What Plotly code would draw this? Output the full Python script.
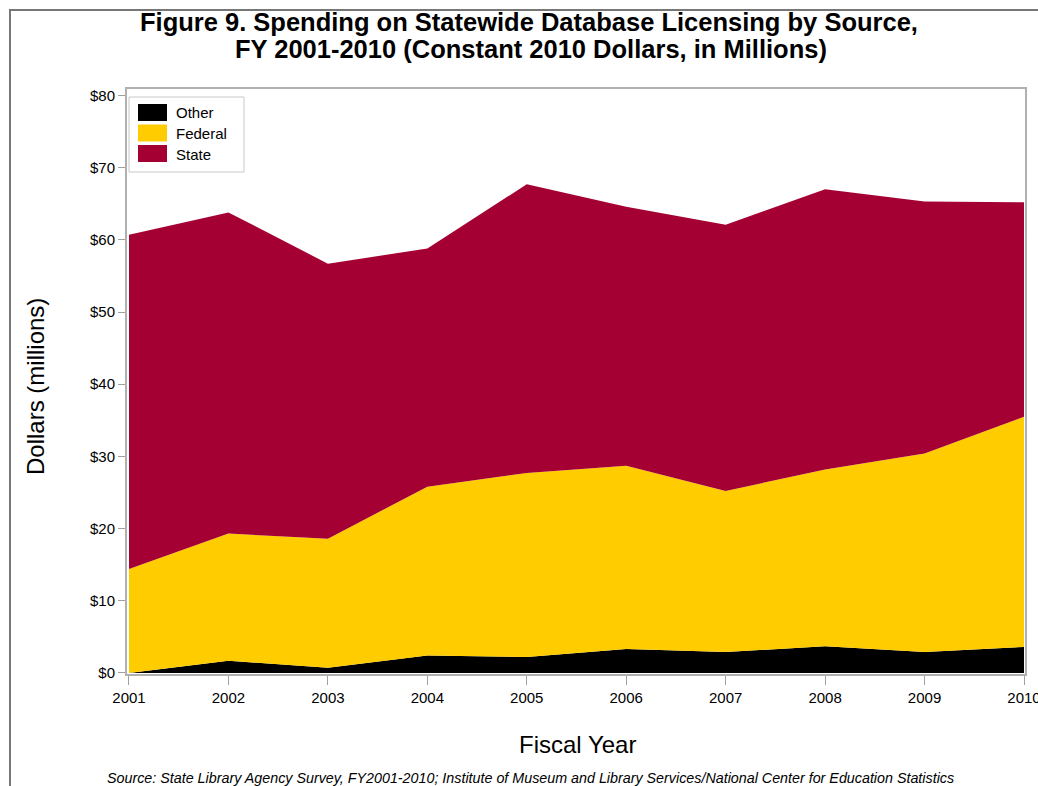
import plotly.graph_objects as go

years = [2001, 2002, 2003, 2004, 2005, 2006, 2007, 2008, 2009, 2010]
other = [0.0, 1.7, 0.7, 2.4, 2.2, 3.3, 2.9, 3.7, 2.9, 3.6]
federal = [14.4, 17.6, 17.9, 23.4, 25.5, 25.4, 22.3, 24.5, 27.5, 31.9]
state = [46.3, 44.5, 38.1, 33.0, 40.0, 35.9, 36.9, 38.8, 34.9, 29.7]
y_ticks = [0, 10, 20, 30, 40, 50, 60, 70, 80]
y_tick_labels = ["$0", "$10", "$20", "$30", "$40", "$50", "$60", "$70", "$80"]

series = [("Other", other, "#000000"), ("Federal", federal, "#FFCC00"), ("State", state, "#A50034")]

W, H = 1038, 786
L, R, T, B = 127, 13, 89, 112
PW, PH = W - L - R, H - T - B


def px(x):
    return (x - L) / PW


def py(y):
    return (H - B - y) / PH


fig = go.Figure()
for name, vals, col in series:
    fig.add_trace(go.Scatter(
        x=years, y=vals, name=name, stackgroup="one", mode="lines",
        line=dict(width=0, color=col), fillcolor=col, showlegend=False,
    ))

font_family = "Liberation Sans, Arial, sans-serif"
fig.update_layout(
    width=W, height=H,
    margin=dict(l=L, r=R, t=T, b=B, autoexpand=False),
    paper_bgcolor="white", plot_bgcolor="white",
    font=dict(family=font_family, color="#000000"),
    xaxis=dict(
        range=[2000.98, 2010.01], tickvals=years, ticktext=[str(y) for y in years],
        ticks="outside", ticklen=9, tickcolor="#A0A0A0", showgrid=False,
        showline=True, linecolor="#B0B0B0", linewidth=2, mirror=True,
        tickfont=dict(size=15), zeroline=False, ticklabeloverflow="allow",
        automargin=False,
    ),
    yaxis=dict(
        range=[-0.15, 80.9], tickvals=y_ticks, ticktext=y_tick_labels,
        ticks="outside", ticklen=7, tickcolor="#A0A0A0", showgrid=False,
        showline=True, linecolor="#B0B0B0", linewidth=2, mirror=True,
        tickfont=dict(size=15), zeroline=False, automargin=False,
    ),
    showlegend=False,
)

# Titles
fig.add_annotation(text="<b>Figure 9. Spending on Statewide Database Licensing by Source,</b>",
                   xref="paper", yref="paper", x=px(529), y=py(22), showarrow=False,
                   xanchor="center", yanchor="middle", font=dict(size=25.5, family=font_family))
fig.add_annotation(text="<b>FY 2001-2010 (Constant 2010 Dollars, in Millions)</b>",
                   xref="paper", yref="paper", x=px(531), y=py(49), showarrow=False,
                   xanchor="center", yanchor="middle", font=dict(size=25.5, family=font_family))
fig.add_annotation(text="Dollars (millions)", textangle=-90,
                   xref="paper", yref="paper", x=px(35), y=py(387), showarrow=False,
                   xanchor="center", yanchor="middle", font=dict(size=24, family=font_family))
fig.add_annotation(text="Fiscal Year",
                   xref="paper", yref="paper", x=px(577), y=py(744), showarrow=False,
                   xanchor="center", yanchor="middle", font=dict(size=24, family=font_family))
fig.add_annotation(
    text="<i>Source: State Library Agency Survey, FY2001-2010; Institute of Museum and Library Services/National Center for Education Statistics</i>",
    xref="paper", yref="paper", x=px(530), y=py(778), xanchor="center", yanchor="middle",
    showarrow=False, font=dict(size=14.3, family=font_family),
)

# Legend (manual, matching boxed swatches)
fig.add_shape(type="rect", xref="paper", yref="paper",
              x0=px(129), x1=px(244), y0=py(172), y1=py(97),
              line=dict(color="#C8C8C8", width=1), fillcolor="white")
for i, (name, vals, col) in enumerate(series):
    top = 104 + i * 20.5
    fig.add_shape(type="rect", xref="paper", yref="paper",
                  x0=px(138), x1=px(167), y0=py(top + 17), y1=py(top),
                  line=dict(width=0), fillcolor=col)
    fig.add_annotation(text=name, xref="paper", yref="paper", x=px(174), y=py(top + 9),
                       xanchor="left", yanchor="middle", showarrow=False,
                       font=dict(size=15, family=font_family))

# Outer frame (top and left edges of the screenshot border)
fig.add_shape(type="line", xref="paper", yref="paper",
              x0=px(9), x1=px(1040), y0=py(10), y1=py(10),
              line=dict(color="#777777", width=2))
fig.add_shape(type="line", xref="paper", yref="paper",
              x0=px(10), x1=px(10), y0=py(9), y1=py(790),
              line=dict(color="#777777", width=2))

fig.write_html("out.html", config={"displayModeBar": False},
               post_script="document.body.style.margin='0';document.body.style.overflow='hidden';")
